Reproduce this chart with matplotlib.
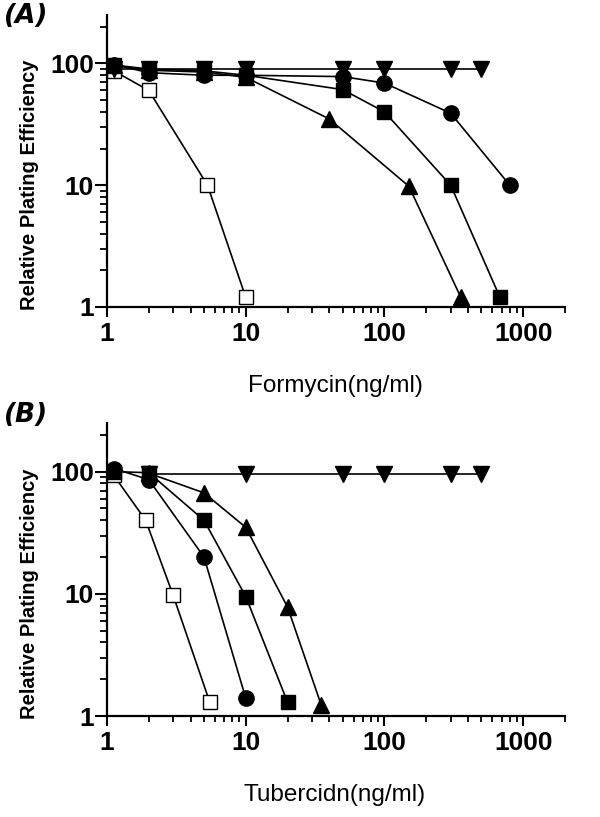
import matplotlib
matplotlib.use("Agg")
import matplotlib.pyplot as plt
from matplotlib.ticker import LogLocator, FixedLocator, NullFormatter, FixedFormatter
from matplotlib.font_manager import FontProperties

# ---------------- data ----------------
# Panel A: Formycin
a_tridown_x = [1.12, 2, 5, 10, 50, 100, 300, 500]
a_tridown_y = [90, 90, 90, 90, 90, 90, 90, 90]
a_circle_x = [1.12, 2, 5, 10, 50, 100, 300, 800]
a_circle_y = [98, 84, 80, 80, 78, 69, 39, 10]
a_square_x = [1.12, 2, 5, 10, 50, 100, 300, 680]
a_square_y = [97, 90, 87, 80, 61, 40, 10, 1.2]
a_triup_x = [1.12, 2, 5, 10, 40, 150, 355]
a_triup_y = [97, 88, 85, 77, 35, 9.8, 1.2]
a_open_x = [1.12, 2, 5.3, 10]
a_open_y = [87, 60, 10, 1.2]

# Panel B: Tubercidin
b_tridown_x = [2, 10, 50, 100, 300, 500]
b_tridown_y = [95, 95, 95, 95, 95, 95]
b_circle_x = [1.12, 2, 5, 10]
b_circle_y = [106, 86, 20, 1.4]
b_square_x = [1.12, 2, 5, 10, 20]
b_square_y = [100, 98, 40, 9.5, 1.3]
b_triup_x = [2, 5, 10, 20, 35]
b_triup_y = [97, 67, 35, 7.8, 1.23]
b_open_x = [1.12, 1.9, 3, 5.5]
b_open_y = [93, 40, 9.7, 1.3]

x_major = [1, 10, 100, 1000]
x_labels = ["1", "10", "100", "1000"]
y_major = [1, 10, 100]
y_labels = ["1", "10", "100"]

W, H = 600, 817
fig = plt.figure(figsize=(W / 100, H / 100), dpi=100)
fig.patch.set_facecolor("white")

tick_fp = FontProperties(family=["Liberation Sans", "DejaVu Sans"], weight="bold", size=19)
ylab_family = ["Liberation Sans", "DejaVu Sans"]
xlab_family = ["Liberation Sans", "DejaVu Sans"]


def make_axes(bottom_px, top_px):
    left_px, right_px = 107, 565
    ax = fig.add_axes([left_px / W, 1 - bottom_px / H,
                       (right_px - left_px) / W, (bottom_px - top_px) / H])
    return ax


def style(ax, xlabel):
    ax.set_xscale("log")
    ax.set_yscale("log")
    ax.set_xlim(1, 2000)
    ax.set_ylim(1, 250)
    for s in ["top", "right"]:
        ax.spines[s].set_visible(False)
    for s in ["left", "bottom"]:
        ax.spines[s].set_linewidth(1.6)
        ax.spines[s].set_color("black")
    ax.xaxis.set_major_locator(FixedLocator(x_major))
    ax.xaxis.set_major_formatter(FixedFormatter(x_labels))
    ax.xaxis.set_minor_locator(LogLocator(base=10, subs=range(2, 10), numticks=20))
    ax.xaxis.set_minor_formatter(NullFormatter())
    ax.yaxis.set_major_locator(FixedLocator(y_major))
    ax.yaxis.set_major_formatter(FixedFormatter(y_labels))
    ax.yaxis.set_minor_locator(LogLocator(base=10, subs=range(2, 10), numticks=20))
    ax.yaxis.set_minor_formatter(NullFormatter())
    ax.tick_params(axis="x", which="major", direction="out", length=7.5, width=1.5, pad=3)
    ax.tick_params(axis="x", which="minor", direction="out", length=4, width=1.3)
    ax.tick_params(axis="y", which="major", direction="out", length=8.5, width=1.5, pad=1)
    ax.tick_params(axis="y", which="minor", direction="out", length=5, width=1.3)
    for lab in ax.get_xticklabels() + ax.get_yticklabels():
        lab.set_fontproperties(tick_fp)
    ax.set_ylabel("Relative Plating Efficiency", family=ylab_family,
                  weight="bold", fontsize=14.5)
    ax.yaxis.label.set_va("center")
    ax.yaxis.set_label_coords((30 - 107) / 458, 0.418)
    ax.set_xlabel(xlabel, family=xlab_family, fontsize=17.5)
    ax.xaxis.label.set_va("center")
    ax.xaxis.set_label_coords((335 - 107) / 458, -79 / 292)
    ax.set_facecolor("white")


def draw(ax, tdx, tdy, cx, cy, sx, sy, tux, tuy, ox, oy):
    kw = dict(color="black", lw=1.2, clip_on=False)
    ax.plot(ox, oy, marker="s", ms=10.5, mfc="white", mec="black", mew=1.0, zorder=2, **kw)
    ax.plot(tux, tuy, marker="^", ms=12, mfc="black", mec="black", zorder=3, **kw)
    ax.plot(sx, sy, marker="s", ms=10.5, mfc="black", mec="black", zorder=4, **kw)
    ax.plot(cx, cy, marker="o", ms=11, mfc="black", mec="black", zorder=5, **kw)
    ax.plot(tdx, tdy, marker="v", ms=12, mfc="black", mec="black", zorder=6, **kw)


axA = make_axes(307, 15)
draw(axA, a_tridown_x, a_tridown_y, a_circle_x, a_circle_y, a_square_x, a_square_y,
     a_triup_x, a_triup_y, a_open_x, a_open_y)
style(axA, "Formycin(ng/ml)")

axB = make_axes(716, 423)
draw(axB, b_tridown_x, b_tridown_y, b_circle_x, b_circle_y, b_square_x, b_square_y,
     b_triup_x, b_triup_y, b_open_x, b_open_y)
style(axB, "Tubercidn(ng/ml)")

fig.text(4 / W, 1 - 16 / H, "(A)", family="DejaVu Sans", weight="bold", style="italic",
         fontsize=19, va="center", ha="left")
fig.text(4 / W, 1 - 415 / H, "(B)", family="DejaVu Sans", weight="bold", style="italic",
         fontsize=19, va="center", ha="left")

fig.savefig("out.png", dpi=100, facecolor="white")
